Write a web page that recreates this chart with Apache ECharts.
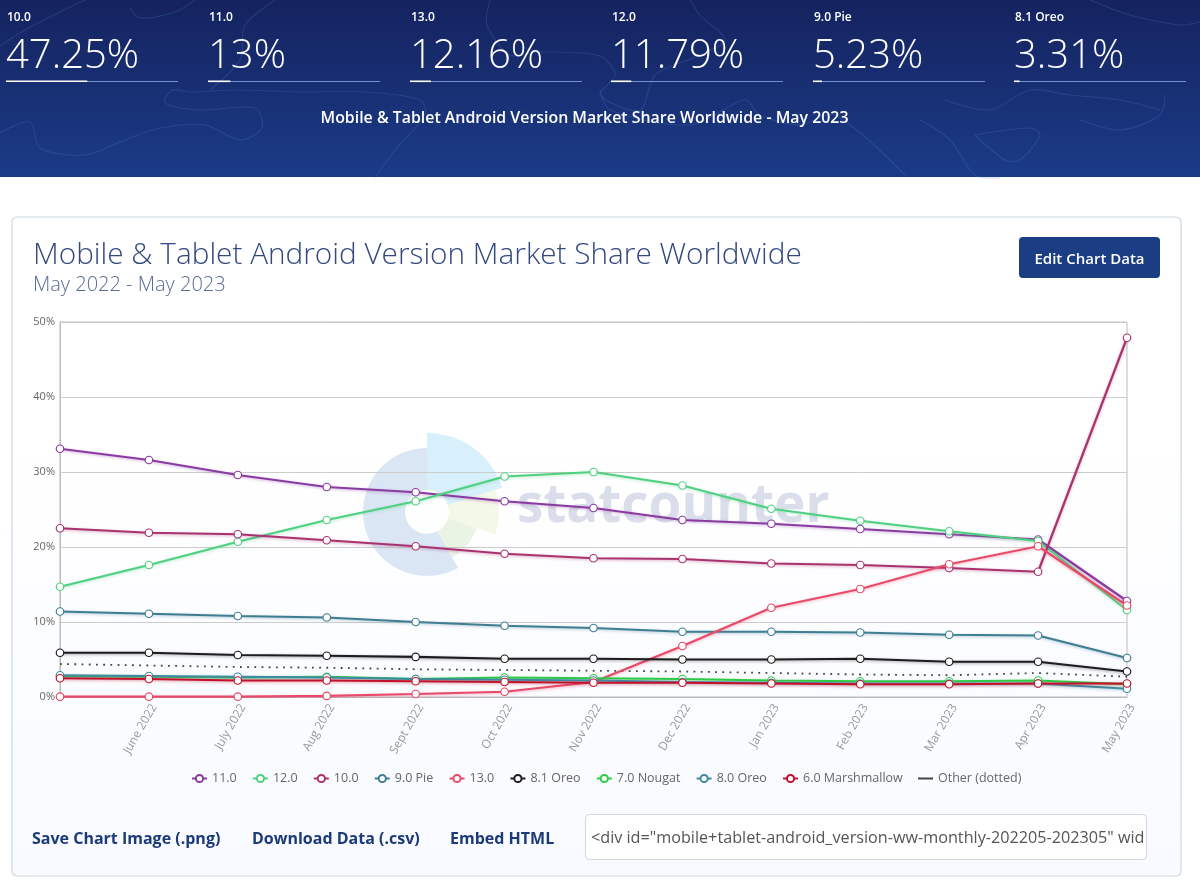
<!DOCTYPE html>
<html><head><meta charset="utf-8">
<style>html,body{margin:0;padding:0;background:#fff}#c{width:1200px;height:889px}</style>
<script src="https://cdn.jsdelivr.net/npm/echarts@6/dist/echarts.min.js"></script>
</head><body><div id="c"></div>
<script>
const months = ['May 2022','June 2022','July 2022','Aug 2022','Sept 2022','Oct 2022','Nov 2022','Dec 2022','Jan 2023','Feb 2023','Mar 2023','Apr 2023','May 2023'];
const v11  = [33.1,31.6,29.6,28.0,27.3,26.1,25.2,23.6,23.1,22.4,21.7,21.0,12.8];
const v12  = [14.7,17.6,20.7,23.6,26.1,29.4,30.0,28.2,25.1,23.5,22.1,20.8,11.6];
const v10  = [22.5,21.9,21.7,20.9,20.1,19.1,18.5,18.4,17.8,17.6,17.2,16.7,47.9];
const v9   = [11.4,11.1,10.8,10.6,10.0,9.5,9.2,8.7,8.7,8.6,8.3,8.2,5.2];
const v13  = [0.05,0.05,0.05,0.15,0.4,0.7,2.0,6.8,11.9,14.4,17.7,20.1,12.2];
const v81  = [5.9,5.9,5.6,5.5,5.35,5.1,5.1,5.0,5.0,5.1,4.7,4.7,3.4];
const v70  = [2.8,2.7,2.6,2.7,2.4,2.6,2.5,2.4,2.2,2.1,2.1,2.2,1.7];
const v80  = [2.9,2.8,2.7,2.6,2.4,2.3,2.2,2.0,1.9,1.8,1.8,1.8,1.1];
const v60  = [2.5,2.4,2.2,2.2,2.1,2.0,1.9,1.9,1.8,1.7,1.7,1.8,1.8];
const vOther = [4.4,4.2,4.0,3.9,3.7,3.6,3.5,3.4,3.2,3.0,2.9,3.2,2.7];
const statNames = ['10.0','11.0','13.0','12.0','9.0 Pie','8.1 Oreo'];
const statValues = [47.25,13,12.16,11.79,5.23,3.31];
const statX = [6,208,410,611,813,1014];
const F = '"Open Sans","Noto Sans",sans-serif';

const defs = [
 ['11.0',v11,'#8a3ba0'],['12.0',v12,'#4fd080'],['10.0',v10,'#a8336f'],['9.0 Pie',v9,'#3f7e92'],
 ['13.0',v13,'#e84a6a'],['8.1 Oreo',v81,'#1d1d1d'],['7.0 Nougat',v70,'#2ecb45'],['8.0 Oreo',v80,'#3d8ba3'],['6.0 Marshmallow',v60,'#c5102c']
];
const series = defs.map(d=>({name:d[0],type:'line',data:d[1],symbol:'circle',symbolSize:7.5,showSymbol:true,
  itemStyle:{color:'#fff',borderColor:d[2],borderWidth:1.2},
  lineStyle:{color:d[2],width:2.2,shadowColor:d[2]+'66',shadowBlur:3,shadowOffsetY:1},emphasis:{disabled:true},animation:false,z:3}));
series.push({name:'Other (dotted)',type:'line',data:vOther,symbol:'none',lineStyle:{color:'#444',width:1.8,type:[1.8,5.4]},emphasis:{disabled:true},animation:false,z:2});

const g = [];
const txt=(x,y,t,size,fill,weight,align,extra)=>g.push({type:'text',z:5,silent:true,x,y,style:Object.assign({text:t,fontFamily:F,fontSize:size,fontWeight:weight||400,fill,align:align||'left',verticalAlign:'middle'},extra||{})});
// page header
g.push({type:'rect',z:-20,silent:true,shape:{x:0,y:0,width:1200,height:177},style:{fill:new echarts.graphic.LinearGradient(0,0,0,1,[{offset:0,color:'#15235f'},{offset:1,color:'#1b3b87'}])}});
g.push({type:'rect',z:-19,silent:true,shape:{x:0,y:175,width:1200,height:2},style:{fill:'#1a3a86'}});
// faint map outline behind the header
const map=[
 [[0,46],[25,30],[60,12],[85,0]],[[130,8],[140,18],[175,12],[195,0]],[[0,133],[30,122],[40,148],[85,155],[120,142],[160,128],[205,125],[240,140],[262,128],[255,108],[200,110],[165,103],[172,90],[190,92],[235,90],[300,92],[365,92],[420,100],[425,115],[395,150],[375,178]],
 [[210,90],[240,60],[245,25],[275,0]],[[490,0],[487,25],[510,55],[540,52],[600,56],[615,75],[600,95],[640,110],[655,75],[700,55],[725,40],[700,15],[690,0]],
 [[600,90],[610,110],[690,125],[745,100],[760,115],[800,125],[835,115],[905,175]],[[920,120],[950,140],[975,175],[1000,178]],
 [[945,100],[990,110],[1030,90],[1070,95],[1120,100],[1160,110]],[[1080,120],[1120,130],[1160,115],[1165,95]],[[975,135],[1005,160],[1020,160],[1040,135],[1030,128],[975,135]],[[1090,0],[1130,15],[1180,25],[1200,22]]
];
map.forEach(p=>g.push({type:'polyline',z:-18,silent:true,shape:{points:p,smooth:0.3},style:{stroke:'rgba(78,130,215,0.24)',lineWidth:1.1,fill:null}}));
statNames.forEach((n,i)=>{
  const x=statX[i];
  txt(x+1,18,n,12,'#fff',600);
  txt(x,57,statValues[i]+'%',40,'#fff',300);
  g.push({type:'rect',z:5,silent:true,shape:{x,y:81,width:172,height:1},style:{fill:'#6f8fd0'}});
  g.push({type:'rect',z:6,silent:true,shape:{x,y:80.5,width:172*statValues[i]/100,height:1.6},style:{fill:'#fff'}});
});
txt(584.5,118.5,'Mobile & Tablet Android Version Market Share Worldwide - May 2023',15.9,'#fff',600,'center');
// card
g.push({type:'rect',z:-17,silent:true,shape:{x:12,y:217,width:1169,height:659,r:5},style:{fill:new echarts.graphic.LinearGradient(0,0,0,1,[{offset:0,color:'#ffffff'},{offset:0.35,color:'#ffffff'},{offset:1,color:'#f8faff'}]),stroke:'#cdd7e3',lineWidth:1.2}});
txt(33,256,'Mobile & Tablet Android Version Market Share Worldwide',29.75,'#34487f',300);
txt(33,285,'May 2022 - May 2023',20,'#5b6b95',300);
g.push({type:'rect',z:4,silent:true,shape:{x:1019,y:237,width:141,height:41,r:4},style:{fill:'#1b3d84'}});
txt(1089.5,259.5,'Edit Chart Data',15,'#fff',600,'center');
// watermark
const wc=[427,512];
const sec=(r0,r,a,b,c)=>g.push({type:'sector',z:-10,silent:true,shape:{cx:wc[0],cy:wc[1],r0,r,startAngle:a*Math.PI/180,endAngle:b*Math.PI/180,clockwise:true},style:{fill:c}});
sec(22,64,61,270,'#dbe6f5');sec(22,79,-90,-18,'#d8f0fb');sec(22,72,-18,18,'#f4f8e6');sec(22,52,18,61,'#eaf4e4');
txt(517,507,'statcounter',53,'#dadeea',700,'left',{});
g[g.length-1].z=-9;
// footer links
txt(32,839,'Save Chart Image (.png)',16,'#1c3a78',700);
txt(252,839,'Download Data (.csv)',16,'#1c3a78',700);
txt(450,839,'Embed HTML',16,'#1c3a78',700);
g.push({type:'rect',z:4,silent:true,shape:{x:585.5,y:814.5,width:561,height:45,r:4},style:{fill:'#fff',stroke:'#cfd6df',lineWidth:1}});
txt(591,838,'<div id="mobile+tablet-android_version-ww-monthly-202205-202305" wid',16.2,'#555',400);

const option={
  animation:false,
  textStyle:{fontFamily:F},
  graphic:{elements:g},
  grid:{left:60,right:73,top:322,bottom:192,show:true,backgroundColor:'transparent',borderColor:'#bbb',borderWidth:1},
  tooltip:{show:false},
  legend:{left:191,top:772,padding:0,itemGap:15.2,itemWidth:15,itemHeight:9,textStyle:{color:'#666',fontSize:12.5,fontFamily:F},selectedMode:false,
    data:defs.map(d=>({name:d[0]})).concat([{name:'Other (dotted)',icon:'path://M0,4 H15 V6 H0 Z',itemStyle:{color:'#444',borderWidth:0}}])},
  xAxis:{type:'category',data:months,boundaryGap:false,
    axisLine:{lineStyle:{color:'#bbb'}},axisTick:{show:false},splitLine:{show:false},
    axisLabel:{rotate:60,color:'#999',fontSize:12,margin:5,interval:(i)=>i>0,verticalAlign:'top',fontFamily:F}},
  yAxis:{type:'value',min:0,max:50,interval:10,
    axisLine:{show:true,lineStyle:{color:'#bbb'}},axisTick:{show:false},splitLine:{lineStyle:{color:'#ccc'}},
    axisLabel:{formatter:'{value}%',color:'#666',fontSize:11,margin:5,fontFamily:F}},
  series
};
const chart=echarts.init(document.getElementById('c'),null,{renderer:'canvas',width:1200,height:889});
chart.setOption(option);
</script></body></html>
